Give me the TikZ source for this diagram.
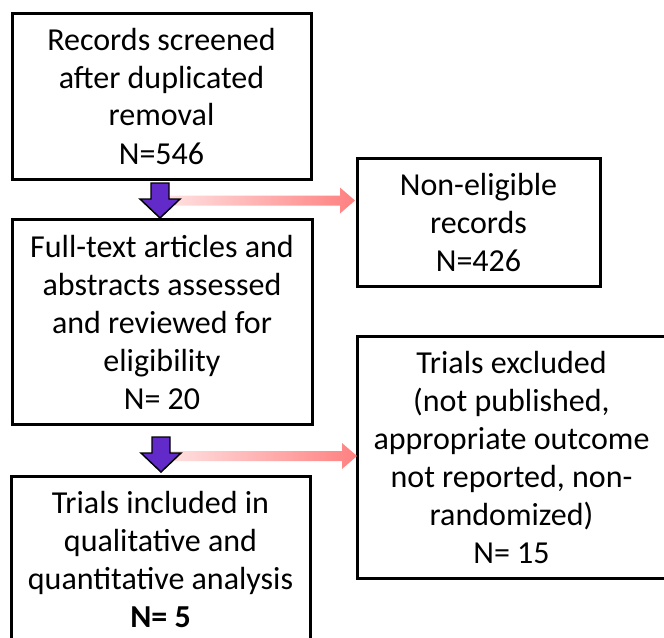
\documentclass[tikz,border=0pt]{standalone}
\usepackage{fontspec}
\setmainfont{Carlito}
\definecolor{purp}{RGB}{98,42,200}
\definecolor{pinkL}{RGB}{255,226,226}
\definecolor{pinkR}{RGB}{255,128,128}
\begin{document}
\begin{tikzpicture}[x=0.75pt,y=-0.75pt,
  box/.style={draw=black, line width=2.25pt, inner sep=0pt, align=center,
    font=\fontsize{24pt}{28.5pt}\selectfont},
  purplearrow/.pic={\filldraw[fill=purp, draw=black, line width=1.1pt]
    (-9,0) -- (-9,16) -- (-20,16) -- (0,35) -- (20,16) -- (9,16) -- (9,0) -- cycle;},
  pinkarrow/.pic={\shade[left color=pinkL, right color=pinkR]
    (0,-5) -- (175,-5) -- (175,-13) -- (190,0) -- (175,13) -- (175,5) -- (0,5) -- cycle;}]
\useasboundingbox (0,0) rectangle (664,637);
\node[box, minimum width=299*0.75pt, minimum height=166*0.75pt] (b1) at (161.5,96)
  {Records screened\\after duplicated\\removal\\N=546};
\node[box, minimum width=300*0.75pt, minimum height=204.5*0.75pt] (b2) at (162,322)
  {Full-text articles and\\abstracts assessed\\and reviewed for\\eligibility\\N= 20};
\node[box, minimum width=299*0.75pt, minimum height=167*0.75pt] (b3) at (160.5,559.5)
  {Trials included in\\qualitative and\\quantitative analysis\\\textbf{N= 5}};
\node[box, minimum width=243*0.75pt, minimum height=128*0.75pt] (r1) at (478.5,222.5)
  {Non-eligible\\records\\N=426};
\node[box, minimum width=309*0.75pt, minimum height=242*0.75pt] (r2) at (511.5,457)
  {Trials excluded\\(not published,\\appropriate outcome\\not reported, non-\\randomized)\\N= 15};
\coordinate (p1) at (165,200.5);
\coordinate (p2) at (167,456);
\pic at (p1) {pinkarrow};
\pic at (p2) {pinkarrow};
\coordinate (a1) at (160,183);
\coordinate (a2) at (161,437);
\pic at (a1) {purplearrow};
\pic at (a2) {purplearrow};
\end{tikzpicture}
\end{document}
